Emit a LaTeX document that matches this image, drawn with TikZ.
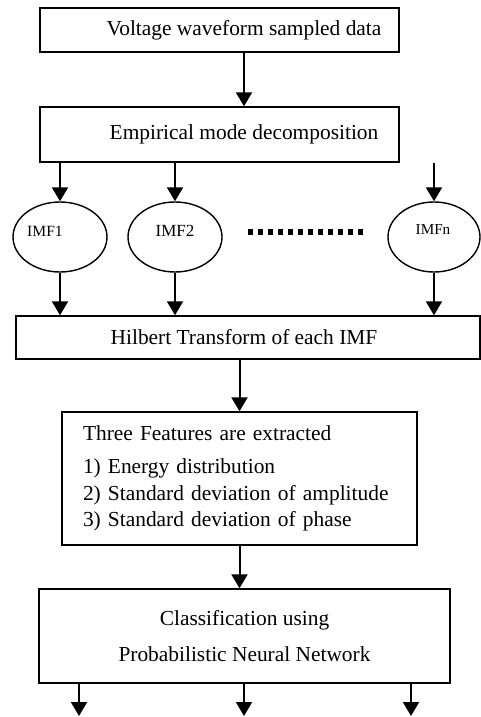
\documentclass[tikz,border=0pt]{standalone}
\usepackage{fontspec}
\setmainfont{Liberation Serif}
\usetikzlibrary{arrows.meta,shapes.geometric}

\begin{document}
\begin{tikzpicture}[
  x=0.5pt, y=-0.5pt,
  font=\fontsize{10.7}{13.25}\selectfont,
  box/.style={draw, line width=0.7pt, rectangle, inner sep=0pt, align=center},
  imf/.style={draw, line width=0.7pt, ellipse, minimum width=47pt,
              minimum height=35pt, inner sep=0pt},
  imflbl/.style={inner sep=0pt},
  arr/.style={-{Triangle[length=7pt,width=8pt]}, line width=1pt},
  dots/.style={line width=3pt, dash pattern=on 2.6pt off 2.4pt},
]
  \useasboundingbox (0,0) rectangle (481,717);

  \def\xT{244}   % text column
  \def\yE{237}   % IMF row

  % --- Boxes ---
  \node[box, minimum width=179.5pt, minimum height=22pt] (volt) at (219.5,30)
    {\hspace*{24.5pt}Voltage waveform sampled data};
  \node[box, minimum width=179.5pt, minimum height=27.5pt] (emd) at (219.5,134.5)
    {\hspace*{24.5pt}Empirical mode decomposition};
  \node[box, minimum width=232pt, minimum height=21.5pt] (hil) at (248,337.5)
    {\hspace*{-4pt}Hilbert Transform of each IMF};
  \node[box, minimum width=177.5pt, minimum height=66.5pt, text width=156.5pt,
        inner xsep=10.5pt, align=left] (feat) at (239.5,478.5)
    {Three Features are extracted\\[3.25pt]
     1) Energy distribution\\
     2) Standard deviation of amplitude\\
     3) Standard deviation of phase};
  \node[box, minimum width=205.5pt, minimum height=47pt] (pnn) at (244.5,636)
    {Classification using\\[4.75pt] Probabilistic Neural Network};

  % --- IMF ellipses ---
  \node[imf] (imf1) at (60,\yE) {};
  \node[imf] (imf2) at (175,\yE) {};
  \node[imf, minimum width=46pt] (imfn) at (434,\yE) {};
  \node[imflbl, font=\fontsize{7.8}{9}\selectfont] (t1) at (45,231) {IMF1};
  \node[imflbl, font=\fontsize{8.5}{10}\selectfont] (t2) at (175,231) {IMF2};
  \node[imflbl, font=\fontsize{7.6}{9}\selectfont] (tn) at (433,230) {IMFn};

  \coordinate (d1) at (248,232);
  \coordinate (d2) at (364,232);
  \draw[dots] (d1) -- (d2);

  % --- Arrows ---
  \coordinate (mid) at (\xT,0);
  \draw[arr] (volt.south -| mid) -- (emd.north -| mid);

  \foreach \n in {imf1,imf2,imfn} {
    \draw[arr] (\n.north |- emd.south) -- (\n.north);
    \draw[arr] (\n.south) -- (\n.south |- hil.north);
  }

  \draw[arr] (feat.north |- hil.south) -- (feat.north);
  \draw[arr] (feat.south) -- (feat.south |- pnn.north);

  % --- Outputs ---
  \coordinate (o1) at (79,716);
  \coordinate (o2) at (244,716);
  \coordinate (o3) at (411,716);
  \foreach \o in {o1,o2,o3}
    \draw[arr] (\o |- pnn.south) -- (\o);

\end{tikzpicture}
\end{document}
